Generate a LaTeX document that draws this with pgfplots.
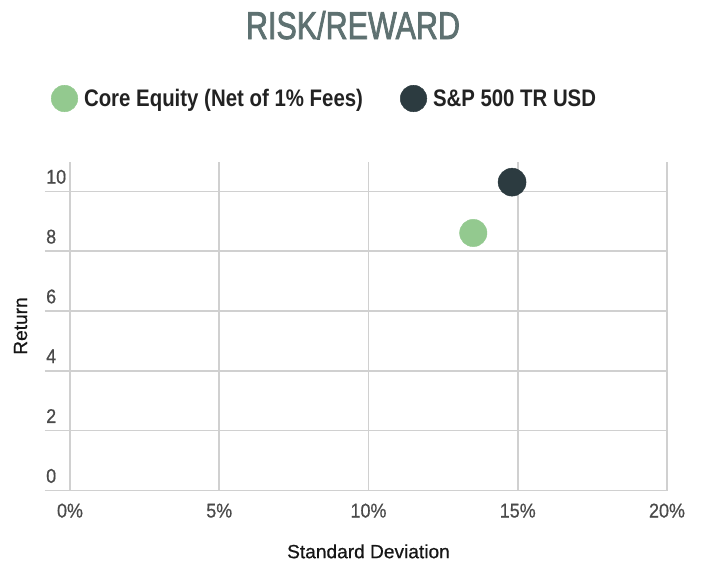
\documentclass[border=0pt]{standalone}
\usepackage{pgfplots}
\pgfplotsset{compat=1.18}
\usepackage{graphicx}
\usepackage{fontspec}
\setmainfont{Liberation Sans}
\newfontfamily\titlefont[FakeBold=2.2]{Liberation Sans}
\newfontfamily\labfont[FakeBold=0.6]{Liberation Sans}
\definecolor{titlecol}{HTML}{5E7171}
\definecolor{greencol}{HTML}{93C98F}
\definecolor{darkcol}{HTML}{2C3B40}
\definecolor{gridcol}{HTML}{D0D0D0}
\definecolor{tickcol}{HTML}{4A4A4A}
\definecolor{legtext}{HTML}{222222}
\definecolor{labcol}{HTML}{161616}
\newcommand\sx[1]{\scalebox{0.9}[1]{#1}}
\begin{document}
\begin{tikzpicture}
\path[use as bounding box] (0,0) rectangle (702bp,-565bp);
\node[anchor=base, text=titlecol, inner sep=0pt] at (353bp,-39bp)
  {\resizebox{214bp}{27bp}{\titlefont\fontsize{38}{38}\selectfont RISK\smash{/}REWARD}};
\begin{axis}[
  at={(70bp,-490.5bp)}, anchor=south west,
  scale only axis, width=597bp, height=329bp,
  xmin=0, xmax=20, ymin=0, ymax=11,
  xtick={0,5,10,15,20}, ytick={0,2,4,6,8,10},
  xticklabels={\sx{0\%},\sx{5\%},\sx{10\%},\sx{15\%},\sx{20\%}},
  yticklabels={\sx{0},\sx{2},\sx{4},\sx{6},\sx{8},\sx{10}},
  grid=major, grid style={draw=gridcol, line width=1.6bp},
  axis line style={draw=none},
  tick align=outside, major tick length=25bp,
  xtick style={draw=none},
  ytick style={draw=gridcol, line width=1.6bp},
  tick pos=left,
  tick label style={font=\labfont\fontsize{20}{20}\selectfont, text=tickcol, inner sep=0pt},
  xticklabel style={anchor=base, yshift=-2bp},
  yticklabel style={anchor=base west, yshift=7.7bp, xshift=1bp},
  xlabel={Standard Deviation}, ylabel={Return},
  label style={font=\labfont\fontsize{19.2}{19.2}\selectfont, text=labcol, inner sep=0pt},
  x label style={at={(axis description cs:0.5,-0.2057)}, anchor=base},
  y label style={at={(axis description cs:-0.072,0.5)}, anchor=base},
  clip=false,
  legend columns=2,
  legend style={at={(axis description cs:-0.0318,1.2325)}, anchor=north west,
    draw=none, fill=none, inner sep=0pt, outer sep=0pt,
    nodes={inner sep=0pt, text=legtext, font=\fontsize{24}{24}\selectfont\bfseries},
    /tikz/every odd column/.style={column sep=6bp},
    /tikz/every even column/.style={column sep=37bp}},
]
\addplot[only marks, mark=*, mark size=13.7bp, mark options={draw=greencol, fill=greencol},
  legend image code/.code={\fill[greencol] (13.3bp,0bp) circle (13.3bp);}]
  coordinates {(13.51,8.61)};
\addlegendentry{\resizebox{279bp}{\height}{Core Equity (Net of 1\% Fees)}}
\addplot[only marks, mark=*, mark size=14bp, mark options={draw=darkcol, fill=darkcol},
  legend image code/.code={\fill[darkcol] (13.3bp,0bp) circle (13.3bp);}]
  coordinates {(14.81,10.31)};
\addlegendentry{\resizebox{163bp}{\height}{S\&P 500 TR USD}}
\end{axis}
\end{tikzpicture}
\end{document}
